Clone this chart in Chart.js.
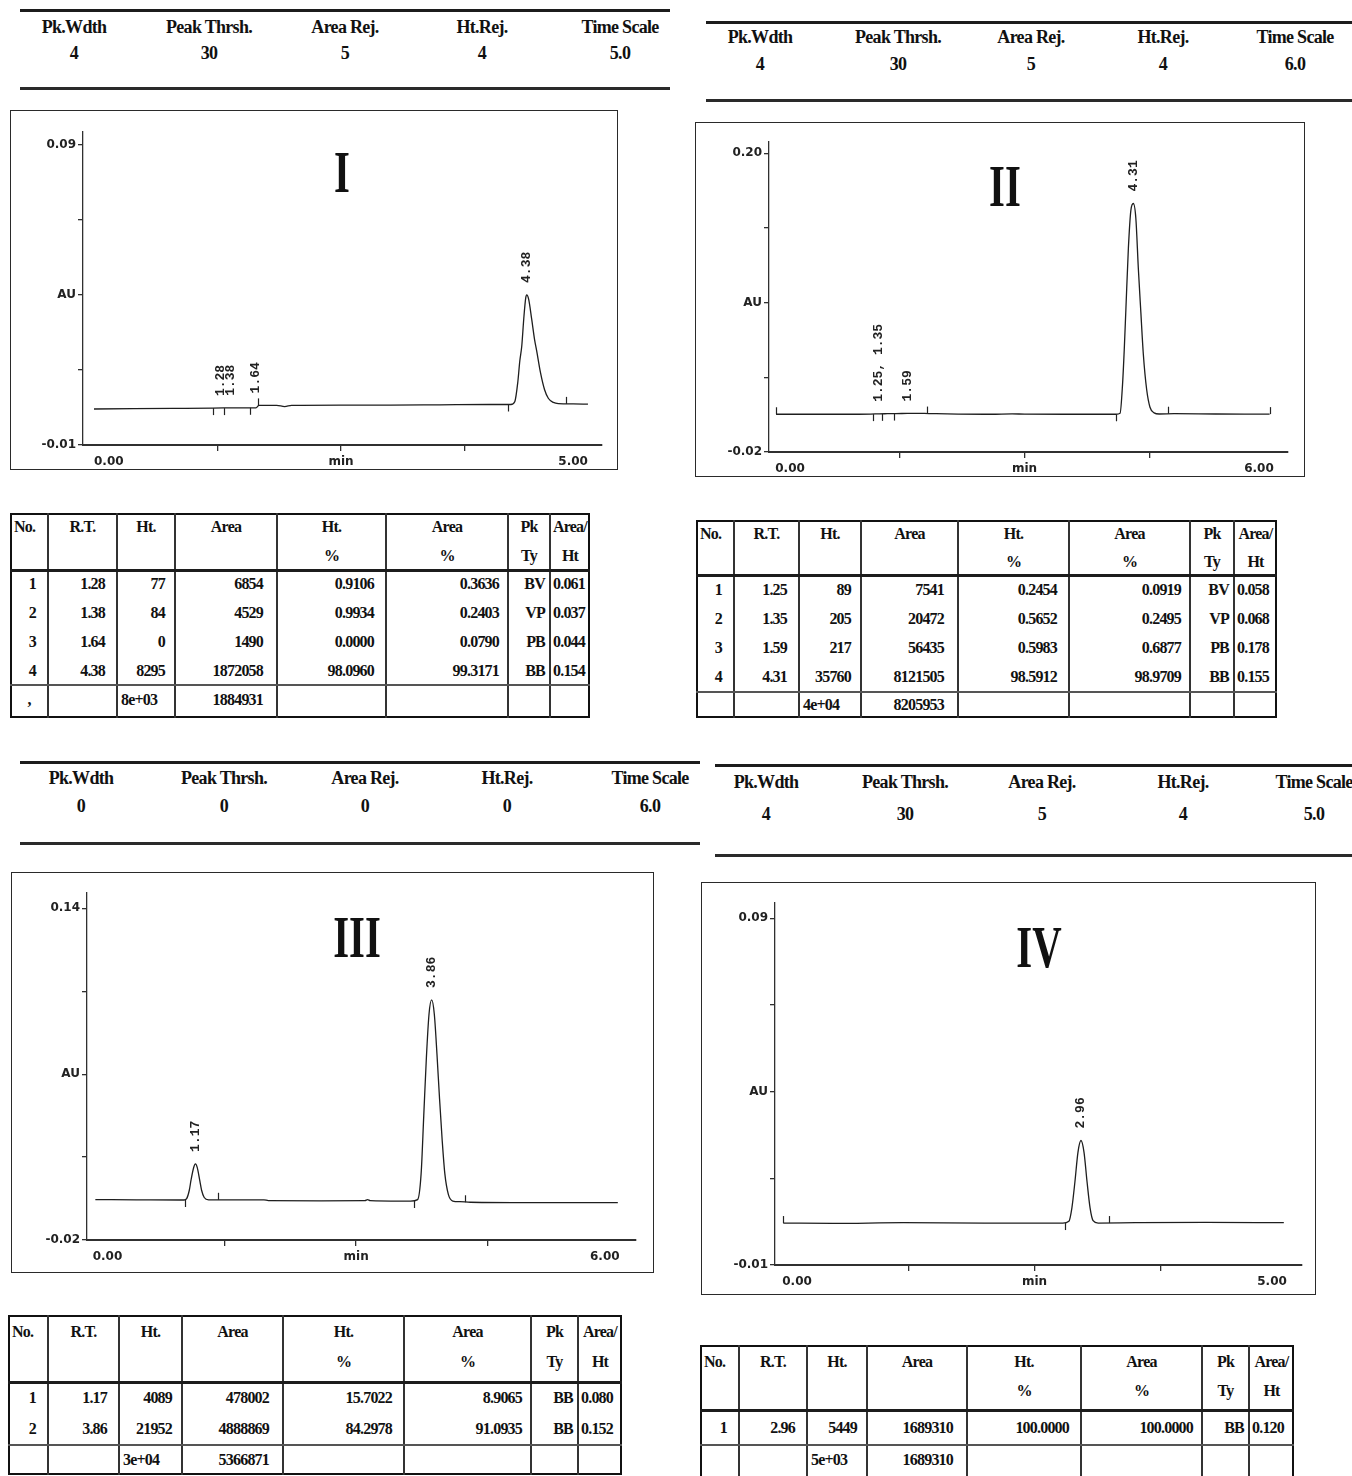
<!DOCTYPE html>
<html>
<head>
<meta charset="utf-8">
<title>Chromatograms I-IV</title>
<script src="https://cdn.jsdelivr.net/npm/chart.js@4.4.1/dist/chart.umd.min.js"></script>
<style>
  html, body { margin: 0; padding: 0; background: #fff; }
  body { position: relative; width: 1352px; height: 1476px; overflow: hidden;
         font-family: "Liberation Serif", "Times New Roman", serif; color: #111; }
  .txt { position: absolute; white-space: nowrap; line-height: 1; font-weight: bold; }
  .param { font-size: 18px; letter-spacing: -0.7px; transform: translate(-50%, -50%); }
  .roman { font-size: 60px; transform: translate(-50%, -50%) scaleX(0.68); }
  .line { position: absolute; background: #1c1c1c; }
  .frame { position: absolute; box-sizing: border-box; border: 1.5px solid #2a2a2a; }
  .cell { position: absolute; font-size: 16px; letter-spacing: -0.8px; font-weight: bold;
          line-height: 1; white-space: nowrap; transform: translateY(-50%); }
</style>
</head>
<body>
<script>
// ---- header parameters
const paramNames = ["Pk.Wdth", "Peak Thrsh.", "Area Rej.", "Ht.Rej.", "Time Scale"];
const paramsI = ["4", "30", "5", "4", "5.0"];
const paramsII = ["4", "30", "5", "4", "6.0"];
const paramsIII = ["0", "0", "0", "0", "6.0"];
const paramsIV = ["4", "30", "5", "4", "5.0"];

// ---- table headings
const headRow1 = ["No.", "R.T.", "Ht.", "Area", "Ht.", "Area", "Pk", "Area/"];
const headRow2 = ["", "", "", "", "%", "%", "Ty", "Ht"];

// ---- chromatogram I (min, AU)
const timeI = [0.00, 0.40, 0.80, 1.20, 1.50, 1.64, 1.67, 1.85, 1.93, 2.00, 2.50, 3.00, 3.50, 4.00,
  4.22, 4.26, 4.29, 4.31, 4.33, 4.35, 4.37, 4.38, 4.40, 4.43, 4.46, 4.48, 4.52, 4.56, 4.60, 4.65, 4.70, 4.85, 5.00];
const auI = [0.0020, 0.0021, 0.0022, 0.0023, 0.0024, 0.0024, 0.0032, 0.0032, 0.0028, 0.0032, 0.0033, 0.0033, 0.0034, 0.0035,
  0.0035, 0.0045, 0.0110, 0.0180, 0.0230, 0.0320, 0.0390, 0.0400, 0.0385, 0.0320, 0.0250, 0.0215, 0.0140, 0.0085, 0.0055, 0.0042, 0.0038, 0.0037, 0.0036];
const yTicksI = [-0.01, 0.015, 0.04, 0.065, 0.09];
const xTicksI = [0, 1.25, 2.5, 3.75, 5];
const peakLabelsI = ["1.28", "1.38", "1.64", "4.38"];
const labelTimesI = [1.28, 1.38, 1.64, 4.38];
const startMarksI = [1.20, 1.32, 1.58, 4.19];
const endMarksI = [1.66, 4.78];
const noI = [1, 2, 3, 4];
const rtI = [1.28, 1.38, 1.64, 4.38];
const htI = [77, 84, 0, 8295];
const areaI = [6854, 4529, 1490, 1872058];
const htPctI = [0.9106, 0.9934, 0.0000, 98.0960];
const areaPctI = [0.3636, 0.2403, 0.0790, 99.3171];
const pkTyI = ["BV", "VP", "PB", "BB"];
const areaHtI = [0.061, 0.037, 0.044, 0.154];
const totalsI = [",", "", "8e+03", "1884931"];

// ---- chromatogram II
const timeII = [0.01, 0.50, 1.00, 1.15, 1.25, 1.35, 1.45, 1.59, 1.70, 1.85, 2.20, 2.60, 2.85, 3.00, 3.50, 4.05,
  4.10, 4.15, 4.18, 4.20, 4.22, 4.25, 4.28, 4.31, 4.34, 4.37, 4.40, 4.43, 4.47, 4.51, 4.56, 4.62, 4.80, 5.30, 5.95];
const auII = [0.0078, 0.0078, 0.0078, 0.0079, 0.0081, 0.0082, 0.0083, 0.0084, 0.0085, 0.0083, 0.0079, 0.0078, 0.0081, 0.0079, 0.0078, 0.0078,
  0.0078, 0.0085, 0.0300, 0.0550, 0.0850, 0.1300, 0.1580, 0.1630, 0.1520, 0.1150, 0.0830, 0.0520, 0.0260, 0.0130, 0.0088, 0.0080, 0.0082, 0.0080, 0.0079];
const yTicksII = [-0.02, 0.035, 0.09, 0.145, 0.20];
const xTicksII = [0, 1.5, 3, 4.5, 6];
const peakLabelsII = ["1.25, 1.35", "1.59", "4.31"];
const labelTimesII = [1.25, 1.59, 4.31];
const startMarksII = [1.18, 1.28, 1.43, 4.10];
const endMarksII = [0.01, 1.83, 4.73, 5.95];
const noII = [1, 2, 3, 4];
const rtII = [1.25, 1.35, 1.59, 4.31];
const htII = [89, 205, 217, 35760];
const areaII = [7541, 20472, 56435, 8121505];
const htPctII = [0.2454, 0.5652, 0.5983, 98.5912];
const areaPctII = [0.0919, 0.2495, 0.6877, 98.9709];
const pkTyII = ["BV", "VP", "PB", "BB"];
const areaHtII = [0.058, 0.068, 0.178, 0.155];
const totalsII = ["", "", "4e+04", "8205953"];

// ---- chromatogram III
const timeIII = [0.03, 0.50, 1.00, 1.04, 1.07, 1.10, 1.12, 1.15, 1.17, 1.19, 1.22, 1.24, 1.27, 1.32, 1.60, 1.95, 2.00, 2.60,
  3.10, 3.13, 3.16, 3.50, 3.62, 3.70, 3.74, 3.77, 3.80, 3.83, 3.86, 3.89, 3.92, 3.95, 3.98, 4.01, 4.05, 4.10, 4.18, 4.30, 5.00, 5.98];
const auIII = [-0.0005, -0.0006, -0.0007, -0.0007, 0.0000, 0.0040, 0.0090, 0.0150, 0.0167, 0.0150, 0.0085, 0.0040, 0.0005, -0.0006, -0.0006, -0.0006, -0.0010, -0.0011,
  -0.0010, -0.0005, -0.0010, -0.0012, -0.0012, -0.0005, 0.0120, 0.0400, 0.0680, 0.0890, 0.0958, 0.0890, 0.0700, 0.0480, 0.0280, 0.0120, 0.0020, -0.0012, -0.0015, -0.0018, -0.0020, -0.0020];
const yTicksIII = [-0.02, 0.02, 0.06, 0.10, 0.14];
const xTicksIII = [0, 1.5, 3, 4.5, 6];
const peakLabelsIII = ["1.17", "3.86"];
const labelTimesIII = [1.17, 3.86];
const startMarksIII = [1.05, 3.66];
const endMarksIII = [1.43, 4.24];
const noIII = [1, 2];
const rtIII = [1.17, 3.86];
const htIII = [4089, 21952];
const areaIII = [478002, 4888869];
const htPctIII = [15.7022, 84.2978];
const areaPctIII = [8.9065, 91.0935];
const pkTyIII = ["BB", "BB"];
const areaHtIII = [0.080, 0.152];
const totalsIII = ["", "", "3e+04", "5366871"];

// ---- chromatogram IV
const timeIV = [0.01, 0.50, 1.20, 2.00, 2.70, 2.78, 2.84, 2.87, 2.90, 2.93, 2.96, 2.99, 3.02, 3.05, 3.08, 3.13, 3.50, 4.20, 4.97];
const auIV = [0.0021, 0.0020, 0.0022, 0.0021, 0.0021, 0.0021, 0.0026, 0.0065, 0.0140, 0.0225, 0.0259, 0.0225, 0.0140, 0.0065, 0.0028, 0.0021, 0.0022, 0.0023, 0.0022];
const yTicksIV = [-0.01, 0.015, 0.04, 0.065, 0.09];
const xTicksIV = [0, 1.25, 2.5, 3.75, 5];
const peakLabelsIV = ["2.96"];
const labelTimesIV = [2.96];
const startMarksIV = [2.80];
const endMarksIV = [0.01, 3.24];
const noIV = [1];
const rtIV = [2.96];
const htIV = [5449];
const areaIV = [1689310];
const htPctIV = [100.0000];
const areaPctIV = [100.0000];
const pkTyIV = ["BB"];
const areaHtIV = [0.120];
const totalsIV = ["", "", "5e+03", "1689310"];

// ---- page layout (pixels)
const layout = [
  { head: { left: 20, right: 670, top: 9, bottom: 87, labelY: 27, valueY: 53, xs: [74, 209, 345, 482, 620] },
    frame: { left: 10, top: 110, right: 618, bottom: 470 },
    area: { left: 83, top: 132, right: 602, bottom: 445 },
    xMin: -0.111, xMax: 5.142, yMax: 0.0943, roman: { x: 342, y: 172 },
    table: { cols: [10, 48, 117, 175, 277, 386, 508, 550, 590], top: 513, headBottom: 570, sep: 685, bottom: 718, hdrY: [527, 556] } },
  { head: { left: 706, right: 1352, top: 21, bottom: 99, labelY: 37, valueY: 64, xs: [760, 898, 1031, 1163, 1295] },
    frame: { left: 695, top: 122, right: 1305, bottom: 477 },
    area: { left: 769, top: 142, right: 1288, bottom: 452 },
    xMin: -0.075, xMax: 6.171, yMax: 0.2083, roman: { x: 1005, y: 186 },
    table: { cols: [696, 734, 799, 861, 958, 1069, 1190, 1234, 1277], top: 520, headBottom: 575, sep: 692, bottom: 718, hdrY: [534, 562] } },
  { head: { left: 20, right: 700, top: 761, bottom: 842, labelY: 778, valueY: 806, xs: [81, 224, 365, 507, 650] },
    frame: { left: 11, top: 872, right: 654, bottom: 1273 },
    area: { left: 87, top: 893, right: 636, bottom: 1240 },
    xMin: -0.065, xMax: 6.187, yMax: 0.1474, roman: { x: 357, y: 937 },
    table: { cols: [8, 48, 119, 182, 283, 404, 531, 578, 622], top: 1315, headBottom: 1382, sep: 1445, bottom: 1475, hdrY: [1332, 1362] } },
  { head: { left: 715, right: 1352, top: 764, bottom: 854, labelY: 782, valueY: 814, xs: [766, 905, 1042, 1183, 1314] },
    frame: { left: 701, top: 882, right: 1316, bottom: 1295 },
    area: { left: 775, top: 903, right: 1302, bottom: 1265 },
    xMin: -0.072, xMax: 5.15, yMax: 0.0944, roman: { x: 1039, y: 947 },
    table: { cols: [700, 739, 807, 867, 967, 1081, 1202, 1249, 1294], top: 1345, headBottom: 1410, sep: 1445, bottom: 1482, hdrY: [1362, 1391] } }
];

const panels = [
  { roman: "I", params: paramsI, time: timeI, au: auI, yTicks: yTicksI, xTicks: xTicksI, labels: peakLabelsI, labelTimes: labelTimesI,
    starts: startMarksI, ends: endMarksI, no: noI, rt: rtI, ht: htI, area: areaI, htPct: htPctI, areaPct: areaPctI, pkTy: pkTyI, areaHt: areaHtI, totals: totalsI },
  { roman: "II", params: paramsII, time: timeII, au: auII, yTicks: yTicksII, xTicks: xTicksII, labels: peakLabelsII, labelTimes: labelTimesII,
    starts: startMarksII, ends: endMarksII, no: noII, rt: rtII, ht: htII, area: areaII, htPct: htPctII, areaPct: areaPctII, pkTy: pkTyII, areaHt: areaHtII, totals: totalsII },
  { roman: "III", params: paramsIII, time: timeIII, au: auIII, yTicks: yTicksIII, xTicks: xTicksIII, labels: peakLabelsIII, labelTimes: labelTimesIII,
    starts: startMarksIII, ends: endMarksIII, no: noIII, rt: rtIII, ht: htIII, area: areaIII, htPct: htPctIII, areaPct: areaPctIII, pkTy: pkTyIII, areaHt: areaHtIII, totals: totalsIII },
  { roman: "IV", params: paramsIV, time: timeIV, au: auIV, yTicks: yTicksIV, xTicks: xTicksIV, labels: peakLabelsIV, labelTimes: labelTimesIV,
    starts: startMarksIV, ends: endMarksIV, no: noIV, rt: rtIV, ht: htIV, area: areaIV, htPct: htPctIV, areaPct: areaPctIV, pkTy: pkTyIV, areaHt: areaHtIV, totals: totalsIV }
];

function addEl(cls, css, text) {
  const d = document.createElement("div");
  d.className = cls;
  d.style.cssText = css;
  if (text !== undefined) d.textContent = text;
  document.body.appendChild(d);
  return d;
}

function drawHeader(p, h) {
  addEl("line", `left:${h.left}px;top:${h.top}px;width:${h.right - h.left}px;height:3px;`);
  addEl("line", `left:${h.left}px;top:${h.bottom}px;width:${h.right - h.left}px;height:3px;background:#2a2a2a;`);
  paramNames.forEach((name, i) => {
    addEl("txt param", `left:${h.xs[i]}px;top:${h.labelY}px;`, name);
    addEl("txt param", `left:${h.xs[i]}px;top:${h.valueY}px;`, p.params[i]);
  });
}

// cell alignment: [side, padding]
const dataAlign = [["r", 12], ["r", 12], ["r", 10], ["r", 14], ["r", 12], ["r", 9], ["r", 5], ["l", 3]];
const totalAlign = [["c", 0], ["c", 0], ["l", 4], ["r", 14]];

function cellText(t, c, y, text, align) {
  const x0 = t.cols[c], x1 = t.cols[c + 1];
  let css = `top:${y}px;left:${x0}px;width:${x1 - x0}px;`;
  if (align[0] === "r") css += `text-align:right;box-sizing:border-box;padding-right:${align[1]}px;`;
  else if (align[0] === "l") css += `text-align:left;box-sizing:border-box;padding-left:${align[1]}px;`;
  else css += "text-align:center;";
  addEl("cell", css, text);
}

function drawTable(p, t) {
  const w = t.cols[8] - t.cols[0];
  addEl("frame", `left:${t.cols[0]}px;top:${t.top}px;width:${w}px;height:${t.bottom - t.top}px;border:2.5px solid #111;`);
  for (let c = 1; c < 8; c++) {
    addEl("line", `left:${t.cols[c] - 0.6}px;top:${t.top}px;width:1.3px;height:${t.bottom - t.top}px;background:#333;`);
  }
  addEl("line", `left:${t.cols[0]}px;top:${t.headBottom - 1.5}px;width:${w}px;height:3px;`);
  addEl("line", `left:${t.cols[0]}px;top:${t.sep - 1}px;width:${w}px;height:2px;background:#555;`);
  headRow1.forEach((s, c) => cellText(t, c, t.hdrY[0], s, c === 0 ? ["l", 4] : ["c", 0]));
  headRow2.forEach((s, c) => { if (s) cellText(t, c, t.hdrY[1], s, ["c", 0]); });
  const n = p.no.length;
  const rowH = (t.sep - t.headBottom) / n;
  for (let r = 0; r < n; r++) {
    const y = t.headBottom + rowH * (r + 0.5);
    const vals = [String(p.no[r]), p.rt[r].toFixed(2), String(p.ht[r]), String(p.area[r]),
      p.htPct[r].toFixed(4), p.areaPct[r].toFixed(4), p.pkTy[r], p.areaHt[r].toFixed(3)];
    vals.forEach((s, c) => cellText(t, c, y, s, dataAlign[c]));
  }
  const ty = Math.min((t.sep + t.bottom) / 2, t.sep + 15);
  p.totals.forEach((s, c) => { if (s) cellText(t, c, ty, s, totalAlign[c]); });
}

function marksPlugin(p) {
  return {
    id: "chromMarks",
    afterDatasetsDraw(chart) {
      const ctx = chart.ctx, xs = chart.scales.x, ys = chart.scales.y;
      const pts = chart.data.datasets[0].data;
      const near = t => pts.reduce((b, q) => (Math.abs(q.x - t) < Math.abs(b.x - t) ? q : b)).y;
      const top = t => Math.max(near(t), ...pts.filter(q => Math.abs(q.x - t) <= 0.06).map(q => q.y));
      ctx.save();
      ctx.strokeStyle = "#222";
      ctx.lineWidth = 1.2;
      const tick = (t, dir) => {
        const px = Math.round(xs.getPixelForValue(t)) + 0.5;
        const py = ys.getPixelForValue(near(t));
        ctx.beginPath();
        ctx.moveTo(px, py);
        ctx.lineTo(px, py + dir * 7);
        ctx.stroke();
      };
      p.starts.forEach(t => tick(t, 1));
      p.ends.forEach(t => tick(t, -1));
      ctx.fillStyle = "#222";
      ctx.font = 'bold 13px "Liberation Mono", monospace';
      ctx.textAlign = "left";
      ctx.textBaseline = "middle";
      p.labels.forEach((txt, i) => {
        const t = p.labelTimes[i];
        const px = xs.getPixelForValue(t);
        const py = ys.getPixelForValue(top(t)) - 12;
        ctx.save();
        ctx.translate(px, py);
        ctx.rotate(-Math.PI / 2);
        ctx.fillText(txt, 0, 0);
        ctx.restore();
      });
      ctx.restore();
    }
  };
}

function drawChart(p, L) {
  const f = L.frame, a = L.area;
  addEl("frame", `left:${f.left}px;top:${f.top}px;width:${f.right - f.left}px;height:${f.bottom - f.top}px;`);
  const canvas = document.createElement("canvas");
  canvas.width = f.right - f.left;
  canvas.height = f.bottom - f.top;
  canvas.style.cssText = `position:absolute;left:${f.left}px;top:${f.top}px;`;
  document.body.appendChild(canvas);
  const axisFont = { family: '"DejaVu Sans", sans-serif', size: 12, weight: "bold" };
  const nx = p.xTicks.length, ny = p.yTicks.length;
  new Chart(canvas, {
    type: "line",
    data: {
      datasets: [{
        data: p.time.map((t, i) => ({ x: t, y: p.au[i] })),
        borderColor: "#1e1e1e",
        borderWidth: 1.3,
        pointRadius: 0,
        cubicInterpolationMode: "monotone",
        fill: false
      }]
    },
    options: {
      responsive: false,
      animation: false,
      devicePixelRatio: 1,
      layout: { padding: { left: 0, top: a.top - f.top, right: f.right - a.right, bottom: 0 } },
      plugins: { legend: { display: false }, tooltip: { enabled: false } },
      scales: {
        x: {
          type: "linear", min: L.xMin, max: L.xMax,
          afterBuildTicks: s => { s.ticks = p.xTicks.map(v => ({ value: v })); },
          afterFit: s => { s.height = f.bottom - a.bottom; },
          border: { color: "#303030", width: 2 },
          grid: {
            drawOnChartArea: false, drawTicks: true, tickLength: 6, lineWidth: 1.3,
            color: c => (c.index === 0 || c.index === nx - 1 ? "rgba(0,0,0,0)" : "#303030")
          },
          ticks: {
            autoSkip: false, maxRotation: 0, align: "inner", padding: 4, color: "#222", font: axisFont,
            callback: (v, i) => (i === 0 || i === nx - 1 ? Number(v).toFixed(2) : (i === (nx - 1) / 2 ? "min" : ""))
          }
        },
        y: {
          type: "linear", min: p.yTicks[0], max: L.yMax,
          afterBuildTicks: s => { s.ticks = p.yTicks.map(v => ({ value: v })); },
          afterFit: s => { s.width = a.left - f.left; },
          border: { color: "#303030", width: 1.3 },
          grid: { drawOnChartArea: false, drawTicks: true, tickLength: 5, lineWidth: 1.3, color: "#303030" },
          ticks: {
            autoSkip: false, padding: 2, color: "#222", font: axisFont,
            callback: (v, i) => (i === 0 || i === ny - 1 ? Number(v).toFixed(2) : (i === (ny - 1) / 2 ? "AU" : ""))
          }
        }
      }
    },
    plugins: [marksPlugin(p)]
  });
  addEl("txt roman", `left:${L.roman.x}px;top:${L.roman.y}px;`, p.roman);
}

panels.forEach((p, i) => {
  const L = layout[i];
  drawHeader(p, L.head);
  drawChart(p, L);
  drawTable(p, L.table);
});
</script>
</body>
</html>
